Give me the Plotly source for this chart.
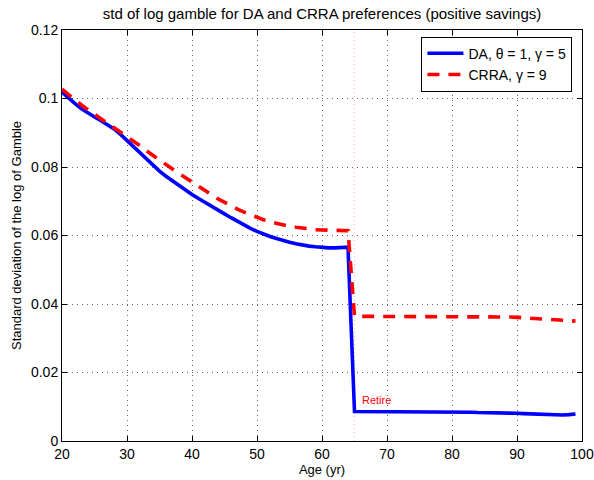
import plotly.graph_objects as go

# Age grid (years)
ages = list(range(20, 100))

# Std of log gamble, DA preferences (theta = 1, gamma = 5)
da_std = [
    0.1019, 0.1001, 0.0985, 0.0970, 0.0957, 0.0946, 0.0935, 0.0924, 0.0911, 0.0895,
    0.0877, 0.0858, 0.0839, 0.0821, 0.0804, 0.0788, 0.0773, 0.0759, 0.0746, 0.0733,
    0.0720, 0.0708, 0.0696, 0.0685, 0.0674, 0.0663, 0.0652, 0.0641, 0.0631, 0.0621,
    0.0612, 0.0604, 0.0597, 0.0591, 0.0585, 0.0580, 0.0576, 0.0572, 0.0569, 0.0567,
    0.0565, 0.0564, 0.0564, 0.0564, 0.0566, 0.0086, 0.0086, 0.0086, 0.0086, 0.0086,
    0.0086, 0.0086, 0.0085, 0.0085, 0.0085, 0.0085, 0.0085, 0.0085, 0.0085, 0.0084,
    0.0084, 0.0084, 0.0084, 0.0084, 0.0083, 0.0083, 0.0083, 0.0082, 0.0082, 0.0081,
    0.0081, 0.0080, 0.0079, 0.0078, 0.0078, 0.0077, 0.0076, 0.0076, 0.0077, 0.0079,
]

# Std of log gamble, CRRA preferences (gamma = 9)
crra_std = [
    0.1027, 0.1011, 0.0996, 0.0981, 0.0967, 0.0954, 0.0942, 0.0930, 0.0917, 0.0904,
    0.0890, 0.0876, 0.0862, 0.0847, 0.0833, 0.0820, 0.0807, 0.0794, 0.0781, 0.0768,
    0.0756, 0.0743, 0.0731, 0.0719, 0.0707, 0.0696, 0.0686, 0.0677, 0.0668, 0.0660,
    0.0653, 0.0646, 0.0640, 0.0635, 0.0631, 0.0627, 0.0624, 0.0621, 0.0619, 0.0617,
    0.0616, 0.0615, 0.0615, 0.0614, 0.0614, 0.0364, 0.0364, 0.0364, 0.0364, 0.0364,
    0.0364, 0.0364, 0.0364, 0.0364, 0.0364, 0.0364, 0.0364, 0.0364, 0.0364, 0.0364,
    0.0364, 0.0364, 0.0364, 0.0364, 0.0364, 0.0363, 0.0363, 0.0363, 0.0362, 0.0362,
    0.0361, 0.0360, 0.0359, 0.0358, 0.0357, 0.0356, 0.0355, 0.0353, 0.0352, 0.0350,
]

retire_age = 65
x_ticks = [20, 30, 40, 50, 60, 70, 80, 90, 100]
y_ticks = [0, 0.02, 0.04, 0.06, 0.08, 0.1, 0.12]
y_tick_text = ["0", "0.02", "0.04", "0.06", "0.08", "0.1", "0.12"]

font_family = "Liberation Sans, Arial, sans-serif"

fig = go.Figure()

# Retirement marker
fig.add_trace(go.Scatter(
    x=[retire_age, retire_age], y=[0, 0.12], mode="lines",
    line=dict(color="rgba(255,110,110,0.55)", width=1, dash="1px,3px"),
    showlegend=False, hoverinfo="skip",
))

fig.add_trace(go.Scatter(
    x=ages, y=da_std, mode="lines", name="DA, θ = 1, γ = 5",
    line=dict(color="#0000ff", width=3.6),
))
fig.add_trace(go.Scatter(
    x=ages, y=crra_std, mode="lines", name="CRRA, γ = 9",
    line=dict(color="#ff0000", width=3.6, dash="12px,9px"),
))

fig.add_annotation(
    x=retire_age + 0.8, y=0.012, text="Retire", showarrow=False,
    xanchor="left", yanchor="middle",
    font=dict(family=font_family, size=11, color="#ff0000"),
)

axis_common = dict(
    showline=True, linecolor="black", linewidth=1, mirror="allticks",
    ticks="inside", ticklen=5, tickcolor="black",
    showgrid=True, gridcolor="rgba(0,0,0,0.6)", griddash="1px,4px", gridwidth=1,
    zeroline=False, automargin=False,
    tickfont=dict(family=font_family, size=14, color="black"),
)

fig.update_xaxes(
    range=[20, 100], tickvals=x_ticks,
    title=dict(text="Age (yr)", font=dict(family=font_family, size=13, color="black"), standoff=2),
    **axis_common,
)
fig.update_yaxes(
    range=[0, 0.12], tickvals=y_ticks, ticktext=y_tick_text,
    title=dict(text="Standard deviation of the log of Gamble",
               font=dict(family=font_family, size=13, color="black"), standoff=6),
    **axis_common,
)

fig.update_layout(
    width=594, height=480,
    margin=dict(l=62, r=12, t=30, b=39),
    paper_bgcolor="white", plot_bgcolor="white",
    title=dict(
        text="std of log gamble for DA and CRRA preferences (positive savings)",
        x=(62 + 582) / 2 / 594, xanchor="center", y=1 - 14 / 480, yanchor="middle",
        font=dict(family=font_family, size=15, color="black"),
    ),
    legend=dict(
        x=0.9816, y=0.9837, xanchor="right", yanchor="top",
        bgcolor="white", bordercolor="black", borderwidth=1,
        font=dict(family=font_family, size=14, color="black"),
        tracegroupgap=0, itemwidth=36,
    ),
    showlegend=True,
)

fig.write_html("out.html")
